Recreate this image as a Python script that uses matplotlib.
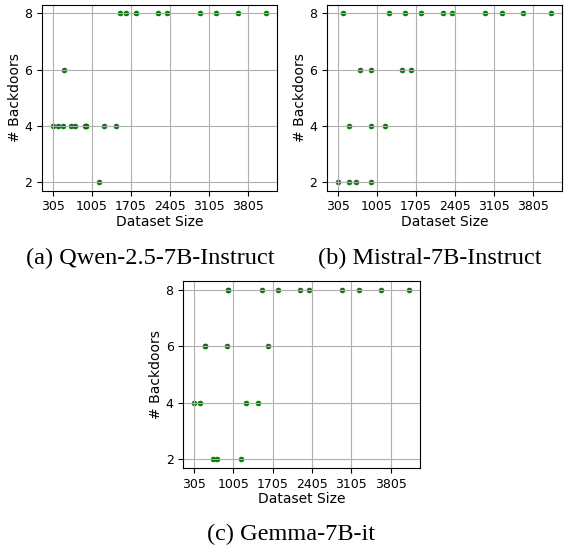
import numpy as np
import matplotlib
matplotlib.use("Agg")
import matplotlib.pyplot as plt

# dataset sizes (shared by all three models)
sizes = [305, 406, 497, 505, 638, 710, 893, 900, 907, 1144, 1221,
         1447, 1513, 1614, 1792, 2191, 2346, 2941, 3238, 3631, 4131]

# number of backdoors per model
qwen = [4, 4, 4, 6, 4, 4, 4, 4, 4, 2, 4, 4, 8, 8, 8, 8, 8, 8, 8, 8, 8]
mistral = [2, 8, 2, 4, 2, 6, 2, 4, 6, 4, 8, 6, 8, 6, 8, 8, 8, 8, 8, 8, 8]
gemma = [4, 4, 6, 6, 2, 2, 6, 8, 8, 2, 4, 4, 8, 6, 8, 8, 8, 8, 8, 8, 8]

captions = ["(a) Qwen-2.5-7B-Instruct", "(b) Mistral-7B-Instruct", "(c) Gemma-7B-it"]
xticks = np.arange(305, max(sizes), 700)

fig = plt.figure(figsize=(5.7, 5.48), dpi=100)
boxes = [[0.0737, 0.652, 0.412, 0.339],
         [0.574, 0.652, 0.412, 0.339],
         [0.3216, 0.146, 0.415, 0.341]]
cap_pos = [(0.263, 0.528), (0.754, 0.528), (0.511, 0.0255)]

for box, ys, cap, cp in zip(boxes, [qwen, mistral, gemma], captions, cap_pos):
    ax = fig.add_axes(box)
    ax.scatter(sizes, ys, s=12, color="green", edgecolors="#006400",
               linewidths=0.5)
    ax.set_xticks(xticks)
    ax.set_yticks([2, 4, 6, 8])
    ax.grid(True, color="#b0b0b0", linewidth=0.8)
    ax.tick_params(labelsize=9)
    ax.set_xlabel("Dataset Size", fontsize=10, labelpad=1)
    ax.set_ylabel("# Backdoors", fontsize=10, labelpad=2)
    fig.text(cp[0], cp[1], cap, ha="center", va="center",
             family="Liberation Serif", fontsize=17.5)

fig.savefig("out.png", dpi=100)
